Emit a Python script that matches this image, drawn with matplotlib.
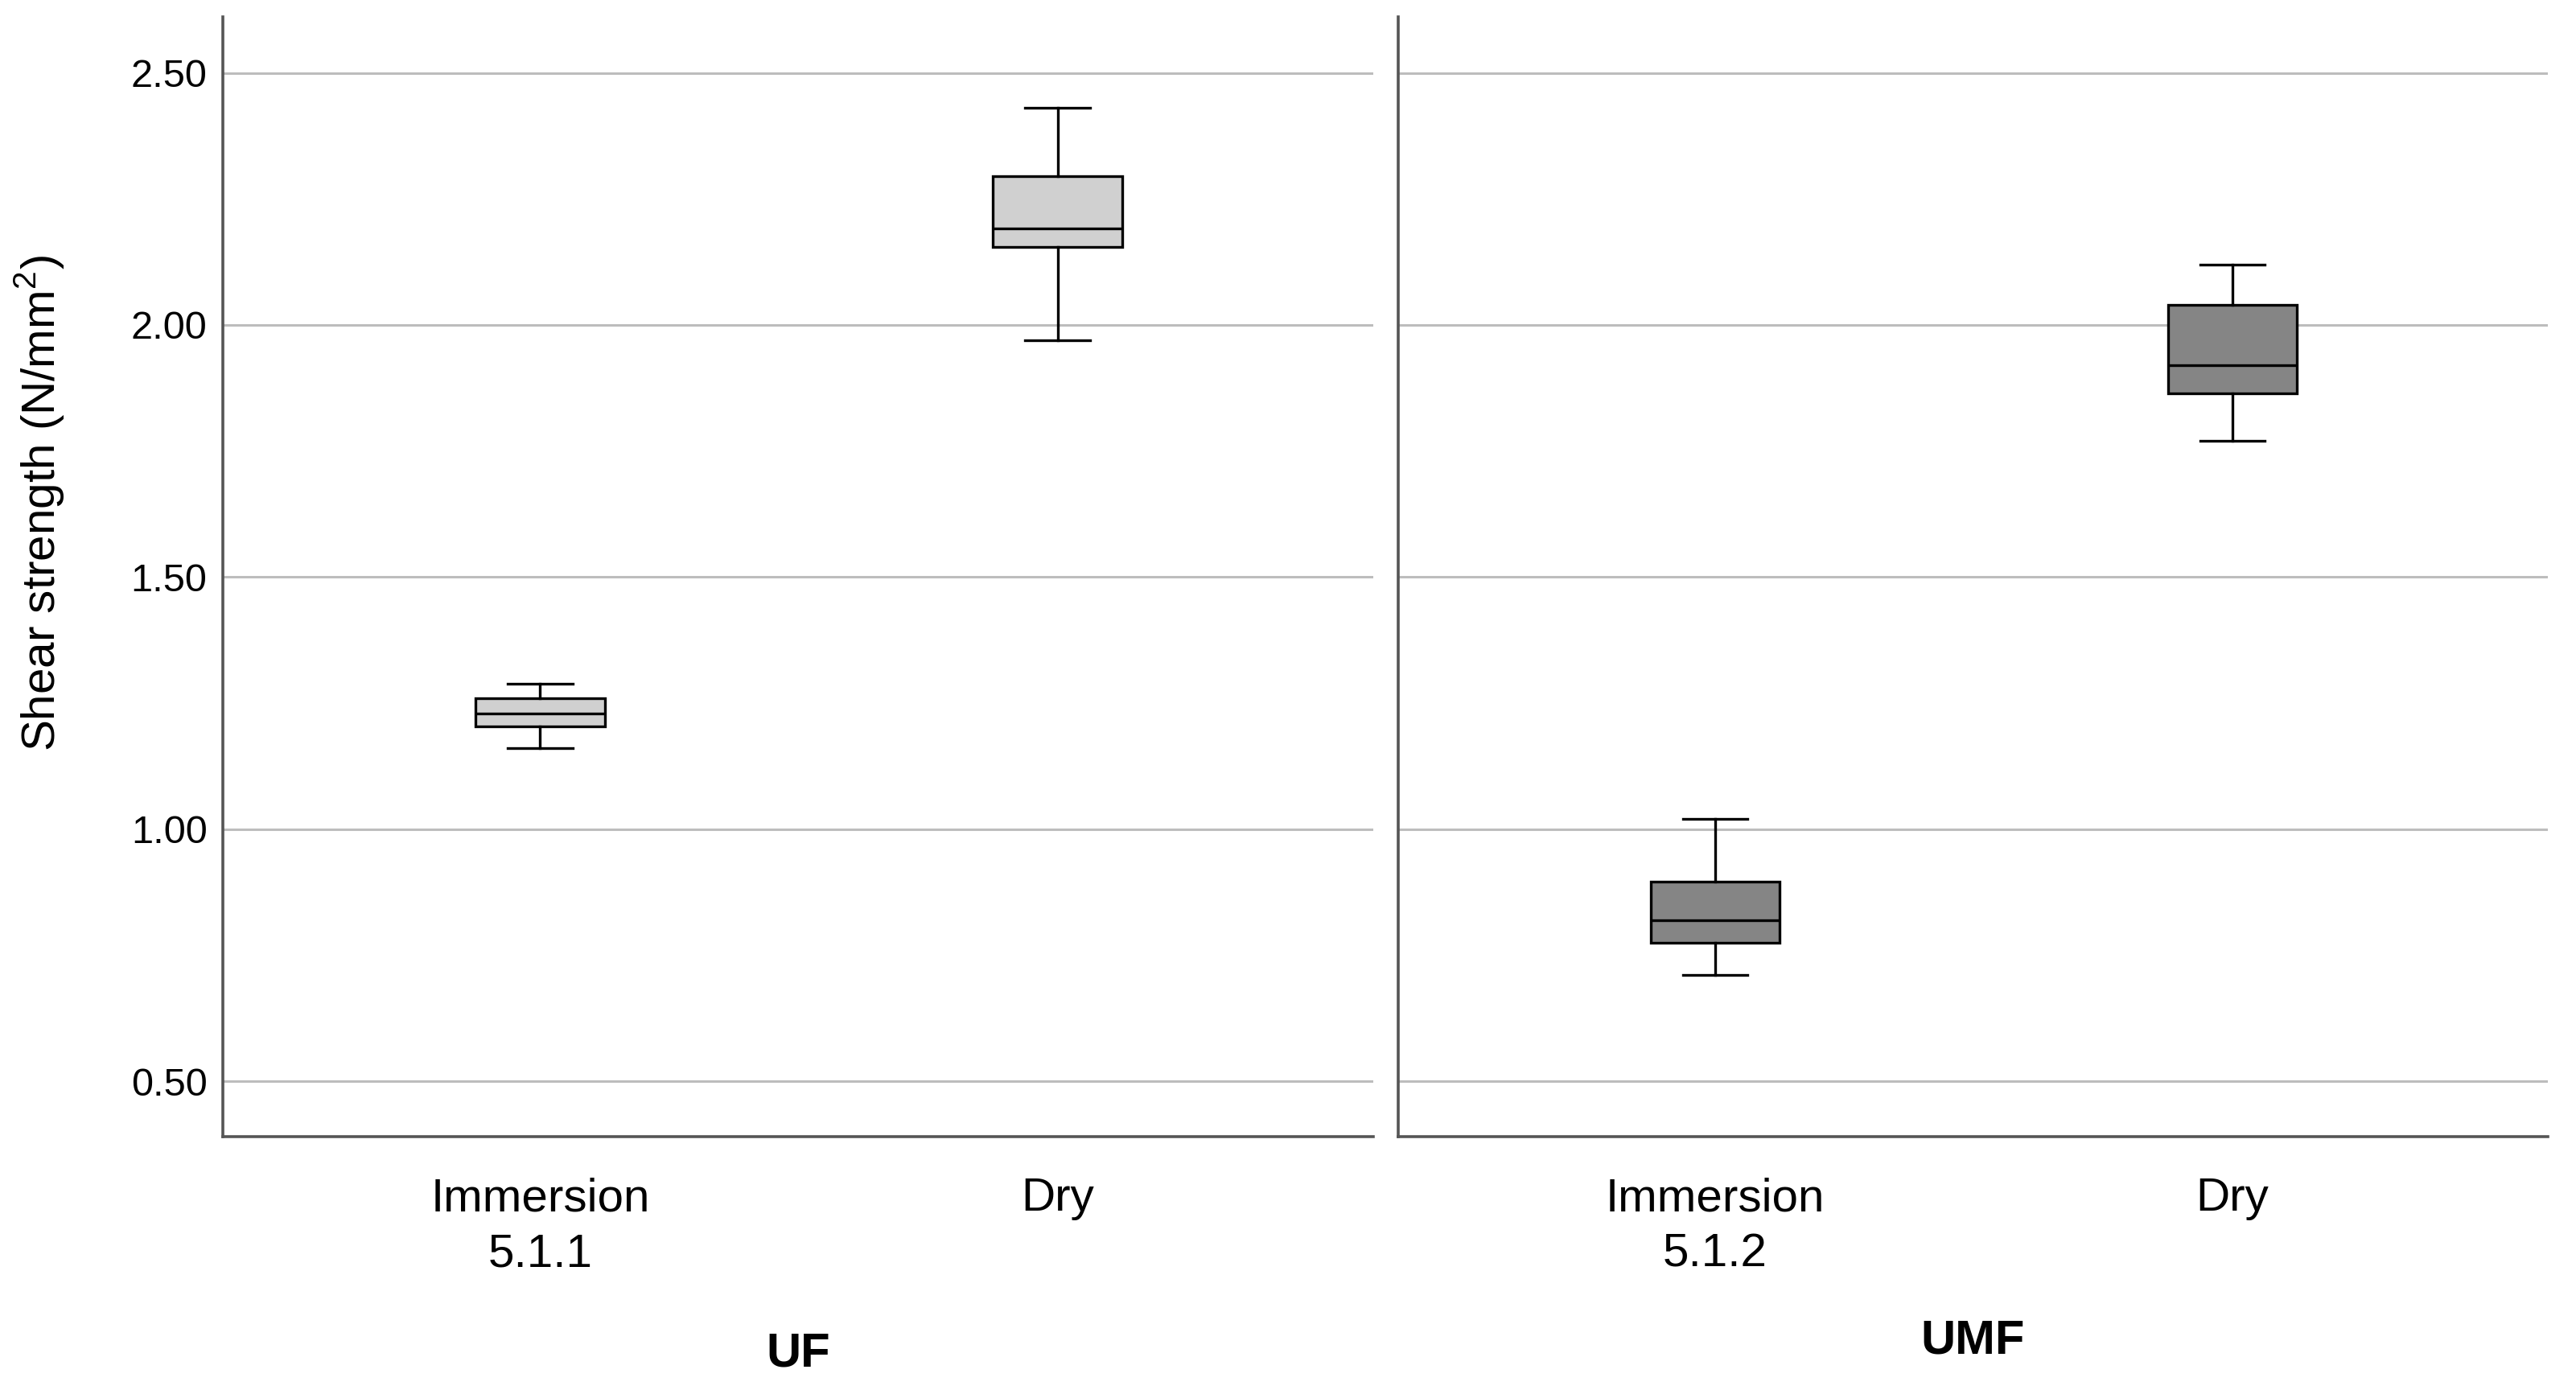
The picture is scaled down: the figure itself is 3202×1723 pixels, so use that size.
import matplotlib.pyplot as plt

plt.rcParams['font.family'] = ['Liberation Sans', 'DejaVu Sans']
plt.rcParams['mathtext.fontset'] = 'custom'
plt.rcParams['mathtext.rm'] = 'Liberation Sans'

# data (five-number summaries)
groups = ['UF', 'UMF']
conditions = [['Immersion\n5.1.1', 'Dry'], ['Immersion\n5.1.2', 'Dry']]
whislo = [[1.160, 1.970], [0.710, 1.770]]
q1 = [[1.204, 2.155], [0.775, 1.865]]
med = [[1.229, 2.191], [0.819, 1.920]]
q3 = [[1.259, 2.295], [0.895, 2.039]]
whishi = [[1.289, 2.430], [1.020, 2.120]]
fills = ['#d0d0d0', '#858585']
yticks = [0.5, 1.0, 1.5, 2.0, 2.5]

W, H = 3202, 1723
fig = plt.figure(figsize=(W / 200, H / 200), dpi=200)

panel_px = [(277, 1707), (1738, 3167)]
top, bottom = 21, 1413

for g in range(2):
    x0, x1 = panel_px[g]
    ax = fig.add_axes([x0 / W, 1 - bottom / H, (x1 - x0) / W, (bottom - top) / H])
    stats = []
    for i in range(2):
        stats.append(dict(whislo=whislo[g][i], q1=q1[g][i], med=med[g][i],
                          q3=q3[g][i], whishi=whishi[g][i], fliers=[]))
    ax.bxp(stats, positions=[0, 1], widths=0.25, capwidths=0.125,
           showfliers=False, patch_artist=True,
           boxprops=dict(facecolor=fills[g], edgecolor='black', linewidth=1.2),
           medianprops=dict(color='black', linewidth=1.2),
           whiskerprops=dict(color='black', linewidth=1.2),
           capprops=dict(color='black', linewidth=1.2), zorder=3)
    ax.set_xlim(-0.613, 1.61)
    ax.set_ylim(0.39, 2.611)
    ax.set_yticks(yticks)
    ax.yaxis.grid(True, color='#bdbdbd', linewidth=1.1, zorder=0)
    ax.set_axisbelow(True)
    ax.set_xticks([0, 1])
    ax.set_xticklabels(conditions[g], fontsize=21, linespacing=1.38)
    ax.tick_params(axis='x', length=0, pad=18)
    for sp in ['top', 'right']:
        ax.spines[sp].set_visible(False)
    ax.spines['left'].set_color('#555555')
    ax.spines['bottom'].set_color('#555555')
    ax.spines['left'].set_linewidth(1.3)
    ax.spines['bottom'].set_linewidth(1.3)
    if g == 0:
        ax.set_yticklabels(['%.2f' % v for v in yticks], fontsize=17.5)
        ax.tick_params(axis='y', length=0, pad=7)
    else:
        ax.tick_params(axis='y', length=0, labelleft=False)
    label_y = 1683 if g == 0 else 1667
    fig.text((x0 + x1) / 2 / W, 1 - label_y / H, groups[g], fontsize=21.5,
             fontweight='bold', ha='center', va='center')

fig.text(49 / W, 1 - 626 / H, r'Shear strength (N/mm$^{2}$)', fontsize=21,
         rotation=90, ha='center', va='center')

fig.savefig('out.png', dpi=200, facecolor='white')
